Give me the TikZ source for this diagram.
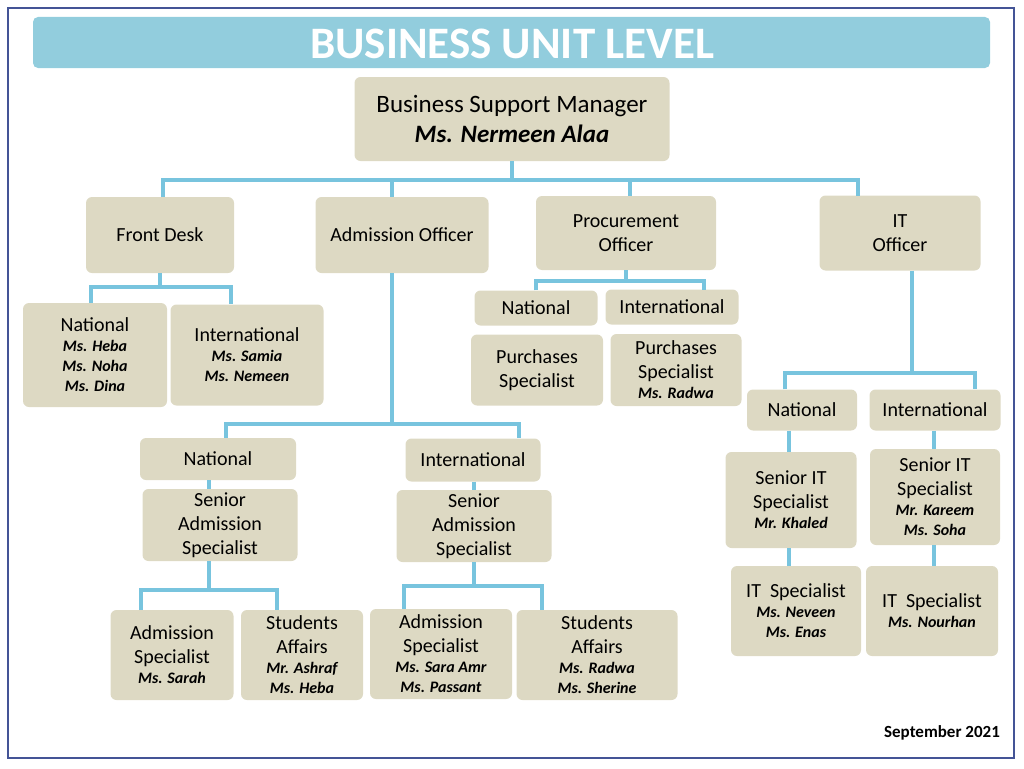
\documentclass[tikz,border=0pt]{standalone}
\usepackage{fontspec}
\setmainfont{Carlito}
\usetikzlibrary{positioning}
\definecolor{boxfill}{RGB}{221,217,195}
\definecolor{linkblue}{RGB}{120,196,222}
\definecolor{titlebar}{RGB}{146,205,221}
\definecolor{frameblue}{RGB}{68,84,150}
\newcommand{\nm}[1]{{\fontsize{16}{20}\selectfont\bfseries\itshape #1}}

\begin{document}
\begin{tikzpicture}[
  x = 1pt, y = -1pt,
  box/.style = {fill=boxfill,rounded corners=6pt,align=center,inner sep=2pt,
                font=\fontsize{20}{24}\selectfont},
  link/.style = {draw=linkblue,line width=4pt}
  ]
  \useasboundingbox (0,0) rectangle (1024,768);
  \draw[frameblue,line width=1.5pt] (8,8) rectangle (1014,758);
  \fill[titlebar,rounded corners=5pt] (33,17) rectangle (990,68);
  \node[text=white,font=\fontsize{45}{45}\selectfont\bfseries] (title) at (512,44) {BUSINESS UNIT LEVEL};

  % top level
  \node[box,minimum width=315,minimum height=84,font=\fontsize{25}{30}\selectfont] (bsm) at (512,119)
    {Business Support Manager\\{\bfseries\itshape Ms. Nermeen Alaa}};
  \node[box,minimum width=148,minimum height=76] (fd) at (160,235) {Front Desk};
  \node[box,minimum width=173,minimum height=76] (ao) at (402,235) {Admission Officer};
  \node[box,minimum width=180,minimum height=74] (po) at (626,233) {Procurement\\Officer};
  \node[box,minimum width=161,minimum height=75] (ito) at (900,233) {IT\\Officer};

  % front desk
  \node[box,minimum width=144,minimum height=104] (fdnat) at (95,355)
    {National\\[-4pt]\nm{Ms. Heba}\\[-4pt]\nm{Ms. Noha}\\[-4pt]\nm{Ms. Dina}};
  \node[box,minimum width=153,minimum height=101] (fdint) at (247,355)
    {International\\[-4pt]\nm{Ms. Samia}\\[-4pt]\nm{Ms. Nemeen}};

  % procurement
  \node[box,minimum width=123,minimum height=35] (pnat) at (536,308) {National};
  \node[box,minimum width=133,minimum height=35] (pint) at (672,307) {International};
  \node[box,minimum width=132,minimum height=71] (psnat) at (537,370) {Purchases\\Specialist};
  \node[box,minimum width=131,minimum height=72] (psint) at (676,370)
    {Purchases\\Specialist\\[-4pt]\nm{Ms. Radwa}};

  % IT
  \node[box,minimum width=110,minimum height=41] (itnat) at (802,410) {National};
  \node[box,minimum width=131,minimum height=41] (itint) at (935,410) {International};
  \node[box,minimum width=131,minimum height=96] (sitnat) at (791,500)
    {Senior IT\\Specialist\\[-4pt]\nm{Mr. Khaled}};
  \node[box,minimum width=130,minimum height=96] (sitint) at (935,497)
    {Senior IT\\Specialist\\[-4pt]\nm{Mr. Kareem}\\[-4pt]\nm{Ms. Soha}};
  \node[box,minimum width=130,minimum height=90] (itsnat) at (796,611)
    {IT~ Specialist\\[-4pt]\nm{Ms. Neveen}\\[-4pt]\nm{Ms. Enas}};
  \node[box,minimum width=132,minimum height=90] (itsint) at (932,611)
    {IT~ Specialist\\[-4pt]\nm{Ms. Nourhan}};

  % admission
  \node[box,minimum width=156,minimum height=42] (anat) at (218,459) {National};
  \node[box,minimum width=135,minimum height=43] (aint) at (473,460) {International};
  \node[box,minimum width=155,minimum height=72] (sanat) at (220,525) {Senior\\Admission\\Specialist};
  \node[box,minimum width=155,minimum height=72] (saint) at (474,526) {Senior\\Admission\\Specialist};
  \node[box,minimum width=123,minimum height=90] (as1) at (172,655)
    {Admission\\Specialist\\[-4pt]\nm{Ms. Sarah}};
  \node[box,minimum width=122,minimum height=90] (sa1) at (302,655)
    {Students\\Affairs\\[-4pt]\nm{Mr. Ashraf}\\[-4pt]\nm{Ms. Heba}};
  \node[box,minimum width=142,minimum height=90] (as2) at (441,654)
    {Admission\\Specialist\\[-4pt]\nm{Ms. Sara Amr}\\[-4pt]\nm{Ms. Passant}};
  \node[box,minimum width=161,minimum height=90] (sa2) at (597,655)
    {Students\\Affairs\\[-4pt]\nm{Ms. Radwa}\\[-4pt]\nm{Ms. Sherine}};

  \node[font=\fontsize{17}{18}\selectfont\bfseries] (date) at (942,733) {September 2021};

  % connectors
  \draw[link] (bsm.south) -- (512,180);
  \draw[link] (163,197) -- (163,180) -- (858,180) -- (858,196);
  \draw[link] (ao.north -| 392,0) -- (392,180);
  \draw[link] (po.north -| 630,0) -- (630,180);
  \draw[link] (fd.south) -- (160,287);
  \draw[link] (fdnat.north -| 91,0) -- (91,287) -- (231,287) -- (fdint.north -| 231,0);
  \draw[link] (po.south) -- (626,281);
  \draw[link] (pnat.north) -- (536,281) -- (704,281) -- (704,290);
  \draw[link] (ito.south -| 912,0) -- (912,373);
  \draw[link] (itnat.north -| 785,0) -- (785,373) -- (975,373) -- (itint.north -| 975,0);
  \draw[link] (itnat.south -| 789,0) -- (sitnat.north -| 789,0);
  \draw[link] (sitnat.south -| 789,0) -- (itsnat.north -| 789,0);
  \draw[link] (itint.south -| 934,0) -- (sitint.north -| 934,0);
  \draw[link] (sitint.south -| 934,0) -- (itsint.north -| 934,0);
  \draw[link] (ao.south -| 392,0) -- (392,424);
  \draw[link] (anat.north -| 226,0) -- (226,424) -- (519,424) -- (aint.north -| 519,0);
  \draw[link] (anat.south -| 209,0) -- (sanat.north -| 209,0);
  \draw[link] (sanat.south -| 209,0) -- (209,590);
  \draw[link] (as1.north -| 141,0) -- (141,590) -- (277,590) -- (sa1.north -| 277,0);
  \draw[link] (aint.south -| 474,0) -- (saint.north -| 474,0);
  \draw[link] (saint.south) -- (474,586);
  \draw[link] (as2.north -| 404,0) -- (404,586) -- (542,586) -- (sa2.north -| 542,0);
\end{tikzpicture}
\end{document}
